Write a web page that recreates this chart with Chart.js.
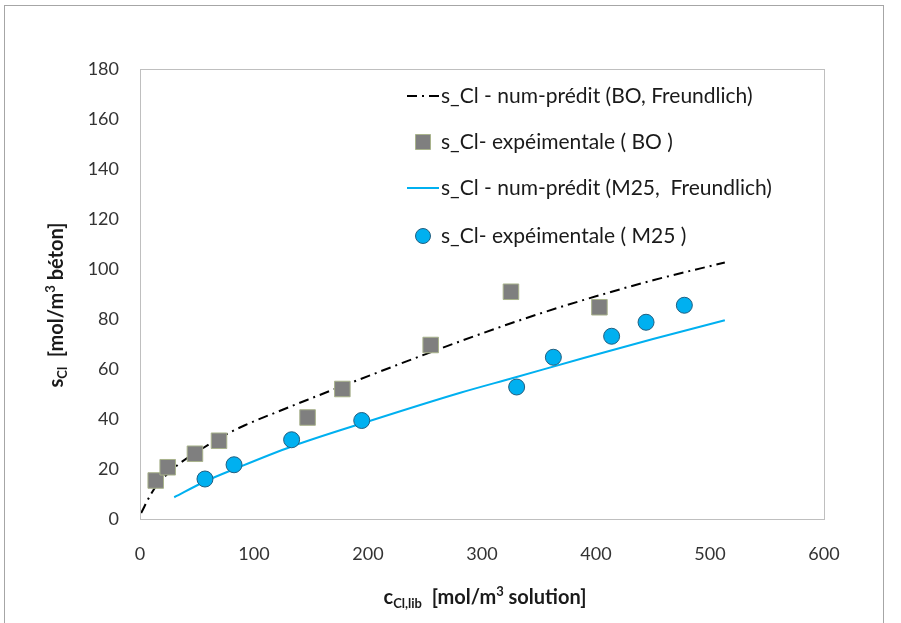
<!DOCTYPE html>
<html>
<head>
<meta charset="utf-8">
<script src="https://cdn.jsdelivr.net/npm/chart.js@4/dist/chart.umd.min.js"></script>
<style>
  html,body{margin:0;padding:0;background:#fff;}
  #wrap{width:901px;height:623px;position:relative;}
</style>
</head>
<body>
<div id="wrap"><canvas id="c" width="901" height="623"></canvas></div>
<script>
// ---- data ----
const xTicks = [0, 100, 200, 300, 400, 500, 600];
const yTicks = [0, 20, 40, 60, 80, 100, 120, 140, 160, 180];

const seriesLabels = [
  "s_Cl - num-prédit (BO, Freundlich)",
  "s_Cl- expéimentale ( BO )",
  "s_Cl - num-prédit (M25,  Freundlich)",
  "s_Cl- expéimentale ( M25 )"
];

// BO predicted curve
const boPredC = [1, 9, 15, 33, 54, 72, 92, 124, 147, 171, 193, 222, 248, 281, 316, 351, 392, 450, 513];
const boPredS = [2.4, 9.5, 13.6, 21.6, 28, 33, 37.5, 43.5, 47.7, 52, 55.9, 61, 65.5, 71.1, 76.8, 82.2, 88, 95.5, 102.6];

// BO experimental points
const boExpC = [13.8, 24.3, 48.2, 69.3, 147, 177.5, 255, 325.4, 403];
const boExpS = [15.4, 20.7, 26.1, 31.3, 40.6, 52, 69.6, 90.9, 84.7];

// M25 predicted curve
const m25PredC = [30, 57, 83, 133, 200, 281, 328, 390, 450, 513];
const m25PredS = [8.7, 15, 20, 29, 39, 50.5, 56.5, 64.5, 72, 79.5];

// M25 experimental points
const m25ExpC = [57, 82.5, 133, 194.5, 330.4, 362.6, 413.7, 443.9, 477.5];
const m25ExpS = [16, 21.7, 31.7, 39.4, 52.8, 64.7, 73.1, 78.7, 85.5];

const pts = (xs, ys) => xs.map((x, i) => ({x: x, y: ys[i]}));

const FONT = "Lato, 'Open Sans', sans-serif";
const PLOT = {left: 140, right: 824, top: 69, bottom: 519};

const framePlugin = {
  id: 'frame',
  beforeDraw(chart) {
    const ctx = chart.ctx;
    ctx.save();
    ctx.fillStyle = '#fff';
    ctx.fillRect(0, 0, chart.width, chart.height);
    ctx.strokeStyle = '#a6a6a6';
    ctx.lineWidth = 1;
    ctx.strokeRect(4.5, 5.5, 879, 700);
    ctx.restore();
  },
  afterDraw(chart) {
    const a = chart.chartArea;
    const ctx = chart.ctx;
    ctx.save();
    ctx.strokeStyle = '#bfbfbf';
    ctx.lineWidth = 1;
    ctx.strokeRect(Math.round(a.left) + 0.5, Math.round(a.top) + 0.5, Math.round(a.right - a.left), Math.round(a.bottom - a.top));
    ctx.restore();
  }
};

function drawRich(ctx, parts, x, y) {
  let cx = x;
  parts.forEach(p => {
    ctx.font = 'bold ' + p.size + 'px ' + FONT;
    ctx.fillText(p.t, cx, y + (p.dy || 0));
    cx += ctx.measureText(p.t).width;
  });
  return cx - x;
}
function richWidth(ctx, parts) {
  let w = 0;
  parts.forEach(p => { ctx.font = 'bold ' + p.size + 'px ' + FONT; w += ctx.measureText(p.t).width; });
  return w;
}

const titlesPlugin = {
  id: 'titles',
  afterDraw(chart) {
    const ctx = chart.ctx;
    ctx.save();
    ctx.fillStyle = '#1a1a1a';
    ctx.textBaseline = 'alphabetic';
    ctx.textAlign = 'left';
    const xp = [
      {t: 'c', size: 20},
      {t: 'Cl,lib', size: 13, dy: 4},
      {t: '  [mol/m', size: 20},
      {t: '3', size: 13, dy: -8},
      {t: ' solution]', size: 20}
    ];
    const xw = richWidth(ctx, xp);
    drawRich(ctx, xp, 485 - xw / 2, 604);
    const yp = [
      {t: 's', size: 20},
      {t: 'Cl', size: 13, dy: 4},
      {t: '  [mol/m', size: 20},
      {t: '3', size: 13, dy: -8},
      {t: ' béton]', size: 20}
    ];
    const yw = richWidth(ctx, yp);
    ctx.translate(63, 305);
    ctx.rotate(-Math.PI / 2);
    drawRich(ctx, yp, -yw / 2, 0);
    ctx.restore();
  }
};

const legendPlugin = {
  id: 'customLegend',
  afterDraw(chart) {
    const ctx = chart.ctx;
    const ds = chart.data.datasets;
    const rows = [96, 142, 188, 236];
    ctx.save();
    ds.forEach((d, i) => {
      const y = rows[i];
      if (d.showLine) {
        ctx.beginPath();
        ctx.strokeStyle = d.borderColor;
        ctx.lineWidth = d.borderWidth;
        ctx.setLineDash(d.borderDash || []);
        ctx.moveTo(407, y);
        ctx.lineTo(439, y);
        ctx.stroke();
        ctx.setLineDash([]);
      } else {
        ctx.fillStyle = d.backgroundColor;
        ctx.strokeStyle = d.borderColor;
        ctx.lineWidth = 1;
        ctx.beginPath();
        if (d.pointStyle === 'rect') {
          ctx.rect(415.5, y - 7.5, 15, 15);
        } else {
          ctx.arc(423, y, 7.5, 0, Math.PI * 2);
        }
        ctx.fill();
        ctx.stroke();
      }
      ctx.fillStyle = '#1a1a1a';
      ctx.font = '21px ' + FONT;
      ctx.textBaseline = 'middle';
      ctx.textAlign = 'left';
      ctx.fillText(d.label, 441, y);
    });
    ctx.restore();
  }
};

new Chart(document.getElementById('c'), {
  type: 'scatter',
  data: {
    datasets: [
      {
        label: seriesLabels[0],
        data: pts(boPredC, boPredS),
        showLine: true,
        borderColor: '#000000',
        borderWidth: 2,
        borderDash: [10, 5, 2, 5],
        pointRadius: 0,
        tension: 0.4,
        cubicInterpolationMode: 'monotone',
        order: 2
      },
      {
        label: seriesLabels[1],
        data: pts(boExpC, boExpS),
        showLine: false,
        pointStyle: 'rect',
        pointRadius: 11,
        backgroundColor: '#7f7f7f',
        borderColor: '#a9b38c',
        borderWidth: 1,
        order: 0
      },
      {
        label: seriesLabels[2],
        data: pts(m25PredC, m25PredS),
        showLine: true,
        borderColor: '#00b0f0',
        borderWidth: 2,
        pointRadius: 0,
        tension: 0.4,
        cubicInterpolationMode: 'monotone',
        order: 2
      },
      {
        label: seriesLabels[3],
        data: pts(m25ExpC, m25ExpS),
        showLine: false,
        pointStyle: 'circle',
        pointRadius: 8,
        backgroundColor: '#00b0f0',
        borderColor: '#235f80',
        borderWidth: 1,
        order: 0
      }
    ]
  },
  options: {
    responsive: false,
    animation: false,
    events: [],
    layout: {padding: {top: PLOT.top, right: 901 - PLOT.right, left: 0, bottom: 0}},
    plugins: {legend: {display: false}, tooltip: {enabled: false}},
    scales: {
      x: {
        type: 'linear',
        min: xTicks[0],
        max: xTicks[xTicks.length - 1],
        afterBuildTicks: s => { s.ticks = xTicks.map(v => ({value: v})); },
        afterFit: s => { s.height = 623 - PLOT.bottom; },
        grid: {display: false, drawTicks: false},
        border: {display: true, color: '#bfbfbf'},
        ticks: {padding: 24, color: '#333333', font: {family: FONT, size: 18}, maxRotation: 0}
      },
      y: {
        type: 'linear',
        min: yTicks[0],
        max: yTicks[yTicks.length - 1],
        afterBuildTicks: s => { s.ticks = yTicks.map(v => ({value: v})); },
        afterFit: s => { s.width = PLOT.left; },
        grid: {display: false, drawTicks: false},
        border: {display: true, color: '#bfbfbf'},
        ticks: {padding: 21, color: '#333333', font: {family: FONT, size: 18}}
      }
    }
  },
  plugins: [framePlugin, titlesPlugin, legendPlugin]
});
</script>
</body>
</html>
